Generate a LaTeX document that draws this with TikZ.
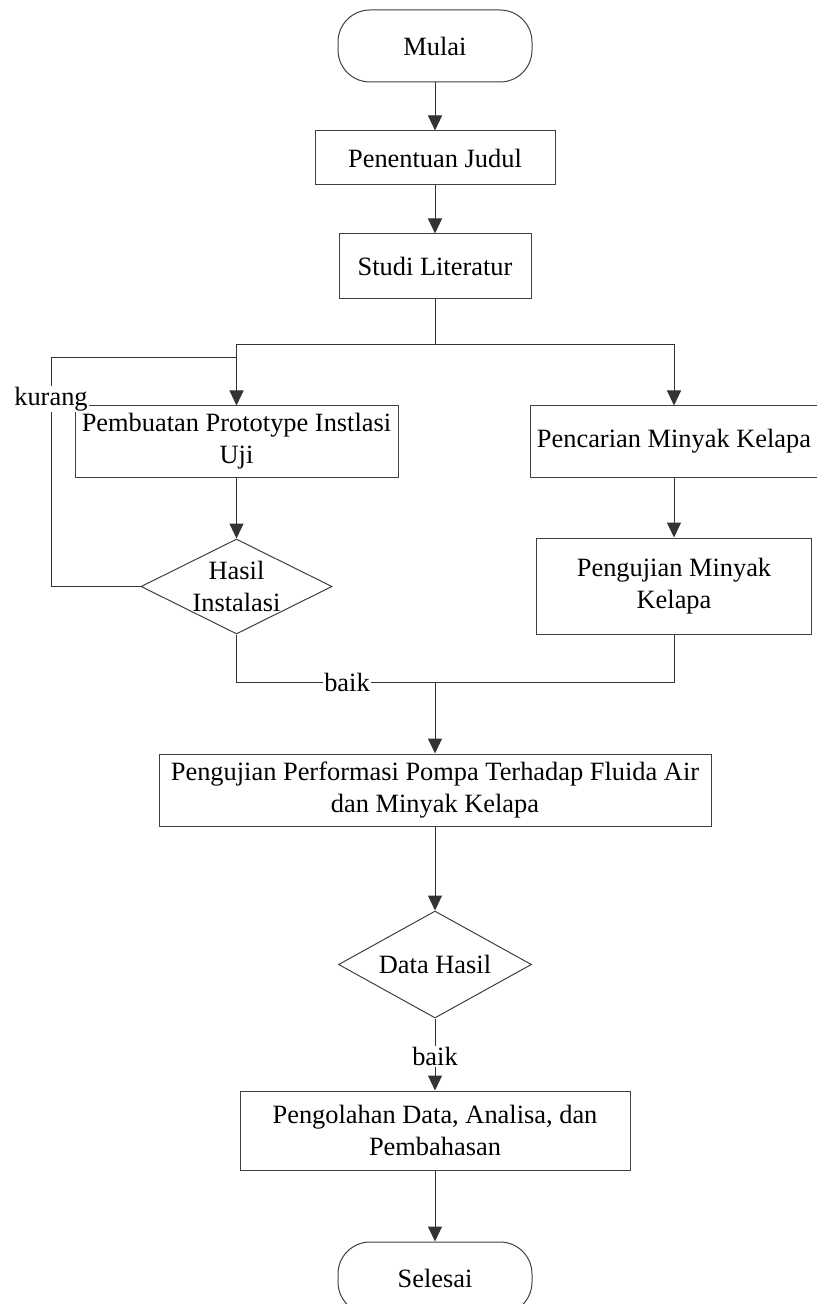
\documentclass[tikz,border=0pt]{standalone}
\usepackage{fontspec}
\setmainfont{Liberation Serif}
\usetikzlibrary{arrows.meta, shapes.geometric, positioning}

\begin{document}
\begin{tikzpicture}[
    x=0.5pt, y=-0.5pt,
    font=\fontsize{13.2}{16}\selectfont,
    box/.style={rectangle, draw=black!75, line width=0.5pt, fill=white,
                align=center, inner sep=3pt},
    term/.style={box, rounded corners=16pt, minimum width=97pt, minimum height=36pt},
    decision/.style={diamond, draw=black!75, line width=0.5pt, fill=white,
                align=center, inner sep=-2pt},
    arrow/.style={-{Triangle[width=7pt,length=7.5pt]}, line width=0.5pt, color=black!80},
    line/.style={line width=0.5pt, color=black!80},
    tag/.style={fill=white, text=black, inner sep=0.5pt}
]
\useasboundingbox (0,0) rectangle (816,1304);
% main column
\node[term] (mulai) at (435,46) {Mulai};
\node[box, minimum width=120pt, minimum height=27pt, below=24pt of mulai] (judul) {Penentuan Judul};
\node[box, minimum width=96pt, minimum height=32.5pt, below=24pt of judul] (studi) {Studi Literatur};
\coordinate (split) at (435,345);
% left branch
\node[box, minimum width=161.5pt, minimum height=35.5pt] (buat) at (236.5,441.5) {Pembuatan Prototype Instlasi\\Uji};
\node[decision, shape aspect=2, minimum width=95.5pt, minimum height=47.5pt, below=30.5pt of buat] (hasil) {Hasil\\Instalasi};
% right branch
\node[box, minimum width=144pt, minimum height=35.5pt] (cari) at (674,441.5) {Pencarian Minyak Kelapa};
\node[box, minimum width=137.5pt, minimum height=48pt, below=30pt of cari] (ujiminyak) {Pengujian Minyak\\Kelapa};
\coordinate (merge) at (435,682);
% lower column
\node[box, minimum width=276pt, minimum height=36pt] (performa) at (435,790) {Pengujian Performasi Pompa Terhadap Fluida Air\\dan Minyak Kelapa};
\node[decision, shape aspect=1.8, minimum width=96.5pt, minimum height=53.5pt, below=42pt of performa] (datahasil) {Data Hasil};
\node[box, minimum width=195pt, minimum height=39.5pt, below=36pt of datahasil] (olah) {Pengolahan Data, Analisa, dan\\Pembahasan};
\node[term, below=35.5pt of olah] (selesai) {Selesai};
% connectors
\draw[arrow] (mulai) -- (judul);
\draw[arrow] (judul) -- (studi);
\draw[line] (studi) -- (split);
\draw[arrow] (split) -| (buat);
\draw[arrow] (split) -| (cari);
\draw[arrow] (buat) -- (hasil);
\coordinate (loop) at (51,358);
\draw[line] (hasil.west) -| (loop) -- (buat.north |- loop);
\node[tag] (kurang) at (51,399) {kurang};
\draw[arrow] (cari) -- (ujiminyak);
\draw[line] (hasil) |- (merge);
\draw[line] (ujiminyak) |- (merge);
\node[tag] (baik1) at (347,682) {baik};
\draw[arrow] (merge) -- (performa);
\draw[arrow] (performa) -- (datahasil);
\draw[arrow] (datahasil) -- (olah) node[tag, pos=0.53] (baik2) {baik};
\draw[arrow] (olah) -- (selesai);
\end{tikzpicture}
\end{document}
